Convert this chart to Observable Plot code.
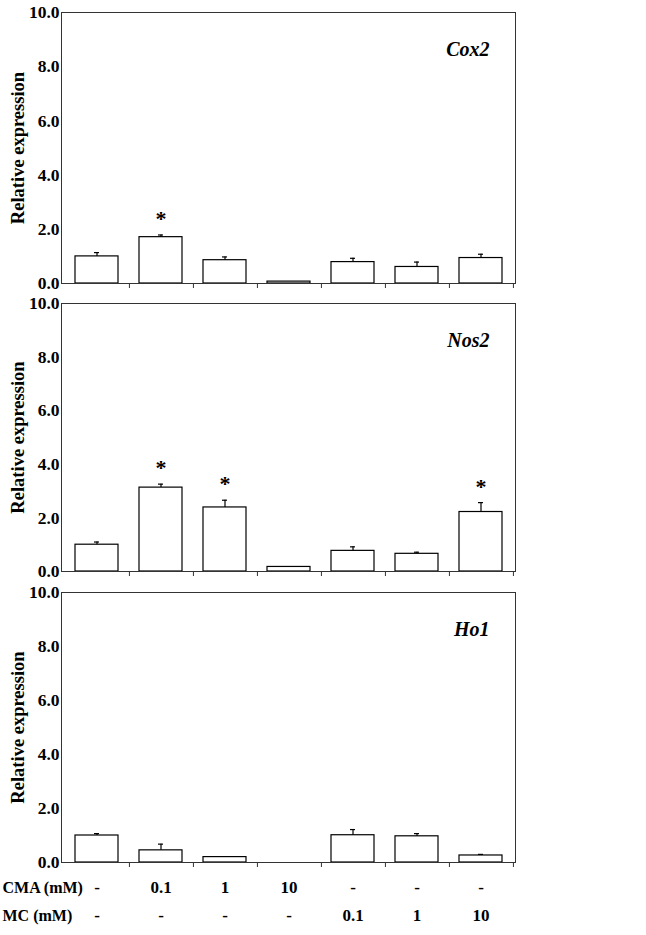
<!DOCTYPE html>
<html>
<head>
<meta charset="utf-8">
<script src="https://cdn.jsdelivr.net/npm/d3@7"></script>
<script src="https://cdn.jsdelivr.net/npm/@observablehq/plot@0.6"></script>
<style>
  html, body { margin: 0; padding: 0; background: white; }
  #chart svg { display: block; }
</style>
</head>
<body>
<div id="chart"></div>
<script>
// ---- Data ----
const categories = ["Control", "CMA 0.1", "CMA 1", "CMA 10", "MC 0.1", "MC 1", "MC 10"];
const cmaLabels = ["-", "0.1", "1", "10", "-", "-", "-"];
const mcLabels  = ["-", "-", "-", "-", "0.1", "1", "10"];
const yTicks = [0, 2, 4, 6, 8, 10];

const cox2    = [1.00, 1.71, 0.86, 0.07, 0.79, 0.61, 0.94];
const cox2Err = [0.14, 0.08, 0.12, 0.00, 0.14, 0.18, 0.14];
const cox2Sig = [false, true, false, false, false, false, false];

const nos2    = [1.00, 3.13, 2.39, 0.17, 0.77, 0.66, 2.22];
const nos2Err = [0.10, 0.13, 0.27, 0.00, 0.15, 0.06, 0.35];
const nos2Sig = [false, true, true, false, false, false, true];

const ho1    = [1.00, 0.45, 0.20, 0.00, 1.01, 0.97, 0.26];
const ho1Err = [0.07, 0.23, 0.00, 0.00, 0.21, 0.10, 0.04];
const ho1Sig = [false, false, false, false, false, false, false];

// ---- Layout ----
const W = 646, ML = 61, MR = 131;
const step = (W - ML - MR) / categories.length;
const FONT = "'Liberation Serif', 'Times New Roman', serif";

function panel(gene, values, errs, sig, {height, marginTop, marginBottom, bottomLabels}) {
  const data = categories.map((c, i) => ({c, v: values[i], e: errs[i], s: sig[i]}));
  const withErr = data.filter(d => d.e > 0);
  const marks = [
    Plot.barY(data, {x: "c", y: "v", fill: "white", stroke: "black", strokeWidth: 1.2}),
    Plot.ruleX(withErr, {x: "c", y1: "v", y2: d => d.v + d.e, stroke: "black", strokeWidth: 1.2}),
    Plot.tickY(withErr, {x: "c", y: d => d.v + d.e, insetLeft: 19, insetRight: 19, stroke: "black", strokeWidth: 1.2}),
    Plot.text(data.filter(d => d.s), {x: "c", y: d => d.v + d.e, text: () => "*", dy: -16, fontSize: 22, lineAnchor: "middle"}),
    Plot.frame({stroke: "#333", strokeWidth: 1}),
    Plot.axisY({ticks: yTicks, tickFormat: d3.format(".1f"), tickSize: 0, tickPadding: 2, fontSize: 17.5, label: null}),
    Plot.axisX({tickSize: 5, tickFormat: () => "", dx: step / 2, label: null, stroke: "#333"}),
    Plot.text([gene], {frameAnchor: "top-right", dx: -26, dy: 37, textAnchor: "end", lineAnchor: "middle", fontStyle: "italic", fontSize: 20}),
    Plot.text(["Relative expression"], {frameAnchor: "left", dx: -43, rotate: -90, fontSize: 18.5, textAnchor: "middle", lineAnchor: "middle"})
  ];
  if (bottomLabels) {
    marks.push(
      Plot.text(categories, {x: d => d, text: (d, i) => cmaLabels[i], frameAnchor: "bottom", dy: 25, fontSize: 17, lineAnchor: "middle"}),
      Plot.text(categories, {x: d => d, text: (d, i) => mcLabels[i], frameAnchor: "bottom", dy: 53, fontSize: 17, lineAnchor: "middle"}),
      Plot.text(["CMA (mM)"], {frameAnchor: "bottom-left", dx: -59, dy: 25, textAnchor: "start", fontSize: 16, lineAnchor: "middle"}),
      Plot.text(["MC (mM)"], {frameAnchor: "bottom-left", dx: -59, dy: 53, textAnchor: "start", fontSize: 16, lineAnchor: "middle"})
    );
  }
  return Plot.plot({
    width: W,
    height,
    marginLeft: ML,
    marginRight: MR,
    marginTop,
    marginBottom,
    style: {fontFamily: FONT, fontWeight: "bold", color: "black", background: "white"},
    x: {domain: categories, paddingInner: 0.33, paddingOuter: 0.165},
    y: {domain: [0, 10]},
    marks
  });
}

const root = document.getElementById("chart");
root.append(
  panel("Cox2", cox2, cox2Err, cox2Sig, {height: 293, marginTop: 12, marginBottom: 10}),
  panel("Nos2", nos2, nos2Err, nos2Sig, {height: 288, marginTop: 10, marginBottom: 10}),
  panel("Ho1", ho1, ho1Err, ho1Sig, {height: 354, marginTop: 11, marginBottom: 73, bottomLabels: true})
);
</script>
</body>
</html>
